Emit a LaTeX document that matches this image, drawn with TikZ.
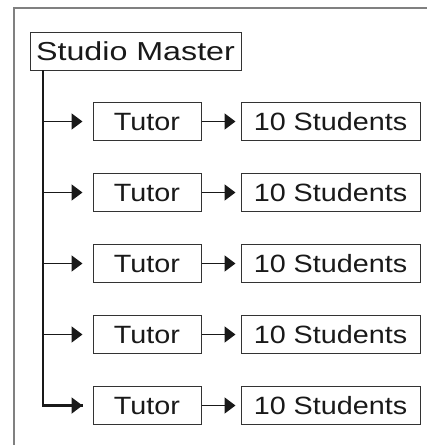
\documentclass[tikz,border=0pt]{standalone}
\usepackage{fontspec}
\setmainfont{Liberation Sans}
\usetikzlibrary{arrows.meta}
\begin{document}
\begin{tikzpicture}[x=1pt,y=1pt,
  box/.style={draw=black!80,line width=1pt,inner sep=0pt,
    minimum height=38pt,text height=18pt,text depth=0pt,
    font=\fontsize{25}{25}\selectfont,text=black!90},
  tutorbox/.style={box,minimum width=108pt},
  groupbox/.style={box,minimum width=179pt},
  frameline/.style={draw=black!50,line width=2pt},
  trunk/.style={draw=black!90,line width=2.4pt},
  feed/.style={draw=black!90,line width=1.7pt,-{Triangle[length=11pt,width=16pt]}}
]
\useasboundingbox (0,0) rectangle (427,-445);
% outer frame, open on the right and at the bottom
\coordinate (fbl) at (14,-445);
\coordinate (ftl) at (14,-7.5);
\coordinate (ftr) at (427,-7.5);
\draw[frameline] (fbl) -- (ftl) -- (ftr);
% head of the studio
\node[box,minimum width=211pt,font=\fontsize{26}{26}\selectfont] (sm) at (135.5,-51)
  {\scalebox{1.24}[1]{Studio Master}};
\coordinate (tx) at (43,-70);
% tutors and their student groups
\foreach \i [evaluate=\i as \yy using -121.5-71*(\i-1)] in {1,...,5}{
  \node[tutorbox] (t\i) at (147,\yy) {\scalebox{1.15}[1]{Tutor}};
  \node[groupbox] (s\i) at (330.5,\yy) {\scalebox{1.15}[1]{10 Students}};
  \draw[feed,shorten >=5pt] (t\i.east) -- (s\i.west);
}
% trunk line from the studio master down to the last tutor
\draw[trunk] (tx) -- (tx |- t5.west) -- ([xshift=-10pt]t5.west);
\draw[feed,line width=2pt,shorten >=10pt] (tx |- t5.west) -- (t5.west);
\foreach \i in {1,...,4}{
  \draw[feed,shorten >=10pt] (tx |- t\i.west) -- (t\i.west);
}
\end{tikzpicture}
\end{document}
